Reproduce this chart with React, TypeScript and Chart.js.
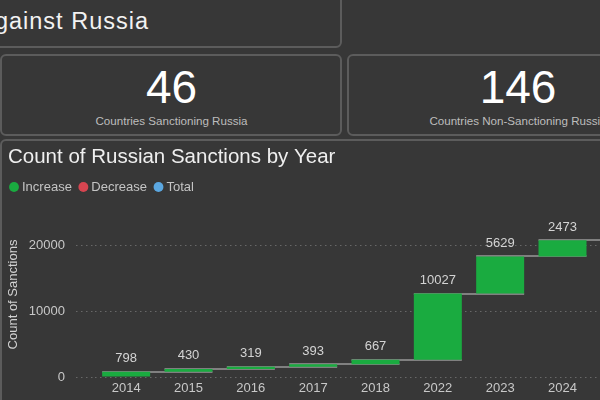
import React, { useEffect, useRef } from 'react';
import { Chart, registerables } from 'chart.js';

Chart.register(...registerables);

// ---- data ----
const years = ['2014', '2015', '2016', '2017', '2018', '2022', '2023', '2024'];
const increases = [798, 430, 319, 393, 667, 10027, 5629, 2473];
const totalLabel = 'Total';
const legendLabels = ['Increase', 'Decrease', 'Total'];
const legendColors = ['#1aab40', '#d64550', '#5ba7e0'];
const yTicks = [0, 10000, 20000];
const yMax = 25000;
const pageTitle = 'Sanctions Against Russia';
const kpiValues = ['46', '146'];
const kpiLabels = ['Countries Sanctioning Russia', 'Countries Non-Sanctioning Russia'];
const chartTitle = 'Count of Russian Sanctions by Year';
const yAxisTitle = 'Count of Sanctions';

const FONT = '"Liberation Sans", Arial, sans-serif';
const BG = '#373737';
const BORDER = '#5c5c5c';

export default function App() {
  const canvasRef = useRef<HTMLCanvasElement | null>(null);

  useEffect(() => {
    const canvas = canvasRef.current;
    if (!canvas) return;

    let run = 0;
    const floating: number[][] = increases.map((v) => {
      const s = run;
      run += v;
      return [s, run];
    });
    const total = run;
    const labels = [...years, totalLabel];
    const data = [...floating, [0, total]];
    const ends = data.map((d) => d[1]);
    const colors = [...increases.map(() => legendColors[0]), legendColors[2]];
    const valueLabels = [...increases, total];

    const titlePlugin = {
      id: 'customTitle',
      beforeDraw(chart: any) {
        const ctx = chart.ctx;
        ctx.save();
        ctx.font = `20.5px ${FONT}`;
        ctx.fillStyle = '#efefef';
        ctx.textAlign = 'left';
        ctx.textBaseline = 'alphabetic';
        ctx.fillText(chartTitle, 8, 22);
        ctx.restore();
      },
    };

    const connectorPlugin = {
      id: 'connectors',
      beforeDatasetsDraw(chart: any) {
        const ctx = chart.ctx;
        const els = chart.getDatasetMeta(0).data;
        const ys = chart.scales.y;
        ctx.save();
        ctx.strokeStyle = '#808080';
        ctx.lineWidth = 2;
        for (let i = 0; i < els.length - 1; i++) {
          const a = els[i];
          const b = els[i + 1];
          const y = Math.round(ys.getPixelForValue(ends[i]));
          ctx.beginPath();
          ctx.moveTo(a.x - a.width / 2, y);
          ctx.lineTo(b.x + b.width / 2, y);
          ctx.stroke();
        }
        ctx.restore();
      },
    };

    const labelPlugin = {
      id: 'valueLabels',
      afterDatasetsDraw(chart: any) {
        const ctx = chart.ctx;
        const els = chart.getDatasetMeta(0).data;
        ctx.save();
        ctx.font = `13px ${FONT}`;
        ctx.fillStyle = '#d4d4d4';
        ctx.textAlign = 'center';
        ctx.textBaseline = 'middle';
        els.forEach((el: any, i: number) => {
          const top = Math.min(el.y, el.base);
          ctx.fillText(String(valueLabels[i]), el.x, top - 13);
        });
        ctx.restore();
      },
    };

    const chart = new Chart(canvas, {
      type: 'bar',
      data: {
        labels,
        datasets: [
          {
            label: 'Count of Sanctions',
            data: data as any,
            backgroundColor: colors,
            borderWidth: 0,
            categoryPercentage: 1,
            barPercentage: 0.77,
          },
        ],
      },
      options: {
        responsive: false,
        animation: false,
        events: [],
        layout: { padding: { top: 29.5, left: 2.5, right: 4, bottom: 0 } },
        plugins: {
          title: { display: false },
          tooltip: { enabled: false },
          legend: {
            display: true,
            position: 'top',
            align: 'start',
            onClick: () => {},
            labels: {
              usePointStyle: true,
              boxWidth: 3,
              boxHeight: 7,
              padding: 10,
              color: '#c4c4c4',
              font: { size: 13, family: FONT },
              generateLabels: () =>
                legendLabels.map((t, i) => ({
                  text: t,
                  fillStyle: legendColors[i],
                  strokeStyle: legendColors[i],
                  lineWidth: 0,
                  pointStyle: 'circle',
                  hidden: false,
                  datasetIndex: 0,
                  fontColor: '#c4c4c4',
                })) as any,
            },
          },
        },
        scales: {
          x: {
            grid: { display: false, drawTicks: false },
            border: { display: false },
            ticks: { color: '#c8c8c8', font: { size: 13, family: FONT }, padding: 4 },
            afterFit: (s: any) => {
              s.height = 23;
            },
          },
          x2: {
            type: 'category',
            position: 'top',
            grid: { display: false, drawTicks: false },
            border: { display: false },
            ticks: { display: false },
            afterFit: (s: any) => {
              s.height = 8.5;
            },
          } as any,
          y: {
            min: 0,
            max: yMax,
            border: { display: false, dash: [1.5, 3.5] },
            grid: {
              color: '#686868',
              lineWidth: 1,
              tickBorderDash: [1.5, 3.5],
              tickColor: '#686868',
              tickLength: 19,
              drawTicks: true,
            } as any,
            ticks: {
              color: '#c8c8c8',
              font: { size: 13, family: FONT },
              padding: 11,
              callback: (v: any) => String(v),
            },
            afterBuildTicks: (s: any) => {
              s.ticks = yTicks.map((v) => ({ value: v }));
            },
            afterFit: (s: any) => {
              s.width = 92.5;
            },
            title: {
              display: true,
              text: yAxisTitle,
              color: '#d2d2d2',
              font: { size: 13, family: FONT },
              padding: { top: 2.7, bottom: 0 },
            },
          },
        },
      },
      plugins: [titlePlugin, connectorPlugin, labelPlugin],
    });

    return () => chart.destroy();
  }, []);

  const card = (left: number, top: number, width: number, height: number): React.CSSProperties => ({
    position: 'absolute',
    left,
    top,
    width,
    height,
    border: `2px solid ${BORDER}`,
    borderRadius: 6,
    boxSizing: 'border-box',
  });

  const abs = (style: React.CSSProperties): React.CSSProperties => ({
    position: 'absolute',
    whiteSpace: 'nowrap',
    fontFamily: FONT,
    ...style,
  });

  return (
    <div
      style={{
        position: 'fixed',
        left: 0,
        top: 0,
        width: 600,
        height: 400,
        overflow: 'hidden',
        background: BG,
        fontFamily: FONT,
      }}
    >
      <div style={card(-300, -10, 642, 58)} />
      <div
        style={abs({
          right: 451,
          top: 9,
          fontSize: 23.5,
          lineHeight: '24px',
          letterSpacing: 1,
          color: '#f2f2f2',
        })}
      >
        {pageTitle}
      </div>

      <div style={card(0, 54, 342, 82)} />
      <div style={card(347, 54, 342, 82)} />
      <div style={abs({ left: 0, width: 343, top: 64, textAlign: 'center', fontSize: 46, lineHeight: '46px', color: '#ffffff' })}>
        {kpiValues[0]}
      </div>
      <div style={abs({ left: 0, width: 343, top: 115, textAlign: 'center', fontSize: 11.6, lineHeight: '12px', color: '#bdbdbd' })}>
        {kpiLabels[0]}
      </div>
      <div style={abs({ left: 347, width: 342, top: 64, textAlign: 'center', fontSize: 46, lineHeight: '46px', color: '#ffffff' })}>
        {kpiValues[1]}
      </div>
      <div style={abs({ left: 347, width: 342, top: 115, textAlign: 'center', fontSize: 11.6, lineHeight: '12px', color: '#bdbdbd' })}>
        {kpiLabels[1]}
      </div>

      <div style={card(0, 139, 700, 300)} />
      <div style={{ position: 'absolute', left: 0, top: 141, width: 660, height: 259 }}>
        <canvas ref={canvasRef} width={660} height={259} style={{ display: 'block', width: 660, height: 259 }} />
      </div>
    </div>
  );
}
